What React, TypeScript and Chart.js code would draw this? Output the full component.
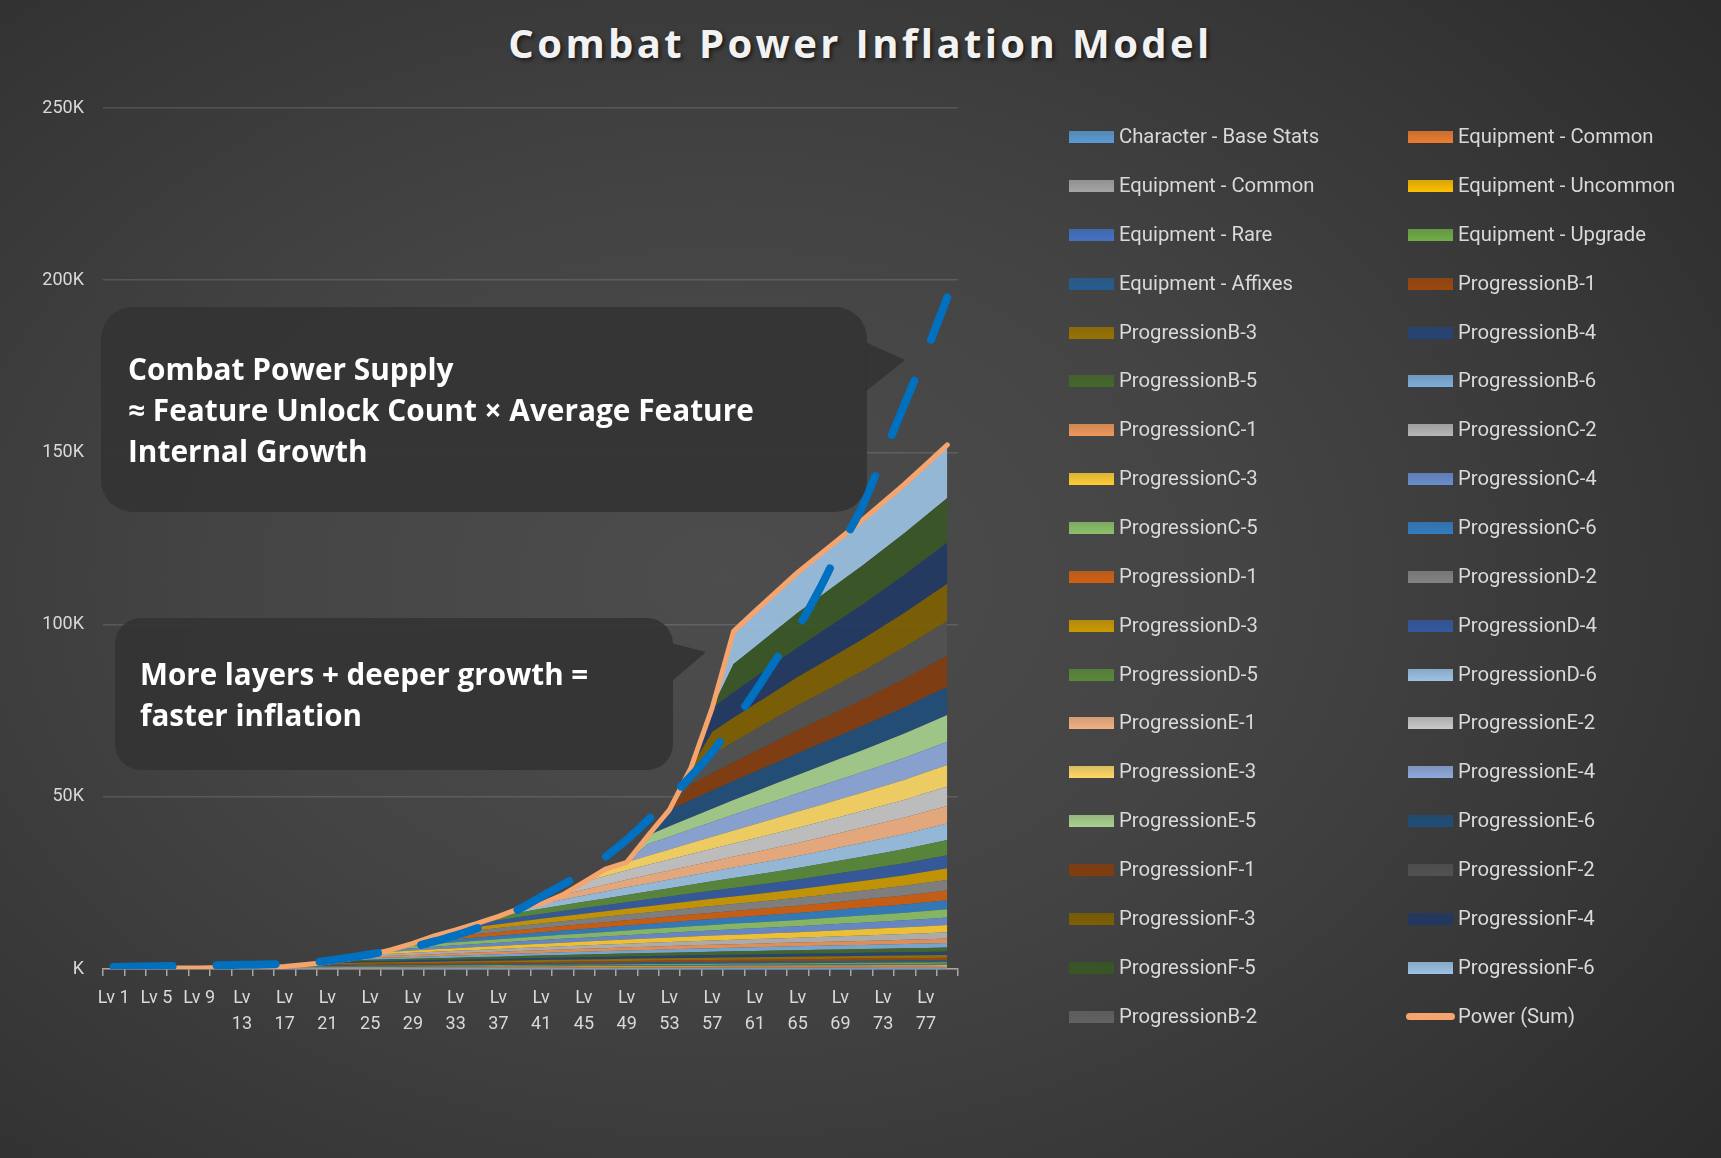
import React, { useEffect, useRef } from "react";
import { Chart, registerables } from "chart.js";

Chart.register(...registerables);

const W = 1721;
const H = 1158;

const levels = [
  "Lv 1", "Lv 3", "Lv 5", "Lv 7", "Lv 9", "Lv 11", "Lv 13", "Lv 15", "Lv 17", "Lv 19",
  "Lv 21", "Lv 23", "Lv 25", "Lv 27", "Lv 29", "Lv 31", "Lv 33", "Lv 35", "Lv 37", "Lv 39",
  "Lv 41", "Lv 43", "Lv 45", "Lv 47", "Lv 49", "Lv 51", "Lv 53", "Lv 55", "Lv 57", "Lv 59",
  "Lv 61", "Lv 63", "Lv 65", "Lv 67", "Lv 69", "Lv 71", "Lv 73", "Lv 75", "Lv 77", "Lv 79",
];

// values in thousands (K)
const charBase = [0.12,0.12,0.13,0.13,0.14,0.14,0.15,0.15,0.16,0.16,0.17,0.17,0.18,0.18,0.19,0.19,0.2,0.2,0.21,0.21,0.22,0.22,0.23,0.23,0.24,0.24,0.25,0.25,0.26,0.26,0.27,0.27,0.28,0.28,0.29,0.29,0.3,0.3,0.31,0.32];
const eqCommonA = [0,0.08,0.08,0.09,0.09,0.1,0.1,0.11,0.11,0.12,0.12,0.13,0.13,0.14,0.14,0.15,0.15,0.16,0.16,0.17,0.17,0.18,0.18,0.19,0.19,0.2,0.2,0.21,0.21,0.22,0.22,0.23,0.23,0.24,0.24,0.25,0.25,0.25,0.26,0.26];
const eqCommonB = [0,0,0,0.08,0.08,0.09,0.09,0.1,0.1,0.11,0.11,0.12,0.12,0.13,0.13,0.14,0.14,0.15,0.15,0.16,0.16,0.17,0.17,0.18,0.18,0.19,0.19,0.2,0.2,0.21,0.21,0.22,0.22,0.23,0.23,0.24,0.24,0.25,0.25,0.26];
const eqUncommon = [0,0,0,0,0,0.1,0.1,0.11,0.11,0.12,0.12,0.13,0.14,0.14,0.15,0.15,0.16,0.17,0.17,0.18,0.18,0.19,0.2,0.2,0.21,0.21,0.22,0.23,0.23,0.24,0.24,0.25,0.26,0.26,0.27,0.27,0.28,0.29,0.29,0.3];
const eqRare = [0,0,0,0,0,0,0,0.12,0.13,0.14,0.14,0.15,0.16,0.17,0.17,0.18,0.19,0.2,0.2,0.21,0.22,0.23,0.23,0.24,0.25,0.26,0.26,0.27,0.28,0.29,0.29,0.3,0.31,0.32,0.32,0.33,0.34,0.35,0.35,0.36];
const eqUpgrade = [0,0,0,0,0,0,0,0,0.15,0.16,0.17,0.18,0.19,0.2,0.21,0.22,0.23,0.24,0.25,0.26,0.27,0.28,0.29,0.3,0.31,0.32,0.33,0.34,0.35,0.36,0.37,0.38,0.39,0.4,0.41,0.42,0.43,0.44,0.45,0.46];
const eqAffixes = [0,0,0,0,0,0,0,0,0,0.2,0.22,0.23,0.25,0.26,0.28,0.29,0.31,0.32,0.34,0.35,0.37,0.38,0.4,0.41,0.43,0.44,0.46,0.47,0.49,0.5,0.51,0.52,0.53,0.54,0.55,0.56,0.57,0.58,0.59,0.6];
const progB1 = [0,0,0,0,0,0,0,0,0,0.3,0.32,0.34,0.35,0.37,0.38,0.4,0.41,0.43,0.44,0.46,0.47,0.49,0.5,0.52,0.53,0.55,0.56,0.58,0.59,0.6,0.61,0.62,0.63,0.64,0.65,0.66,0.67,0.68,0.69,0.7];
const progB3 = [0,0,0,0,0,0,0,0,0,0,0.3,0.32,0.35,0.37,0.39,0.41,0.44,0.46,0.48,0.5,0.52,0.54,0.56,0.58,0.6,0.61,0.63,0.64,0.66,0.67,0.68,0.69,0.7,0.72,0.73,0.74,0.75,0.77,0.78,0.8];
const progB4 = [0,0,0,0,0,0,0,0,0,0,0.3,0.33,0.36,0.39,0.42,0.45,0.48,0.5,0.53,0.56,0.59,0.61,0.64,0.67,0.7,0.72,0.75,0.77,0.8,0.82,0.84,0.86,0.88,0.9,0.91,0.93,0.95,0.96,0.98,1.0];
const progB5 = [0,0,0,0,0,0,0,0,0,0,0,0.4,0.44,0.48,0.51,0.55,0.58,0.62,0.65,0.68,0.72,0.75,0.78,0.81,0.84,0.87,0.9,0.93,0.96,0.98,1.0,1.03,1.05,1.07,1.09,1.11,1.13,1.15,1.18,1.2];
const progB6 = [0,0,0,0,0,0,0,0,0,0,0,0.4,0.44,0.49,0.53,0.57,0.61,0.65,0.69,0.73,0.77,0.8,0.84,0.87,0.91,0.94,0.97,1.0,1.03,1.05,1.08,1.1,1.13,1.15,1.18,1.2,1.22,1.25,1.27,1.3];
const progC1 = [0,0,0,0,0,0,0,0,0,0,0,0,0.5,0.54,0.58,0.61,0.65,0.68,0.71,0.74,0.77,0.8,0.83,0.86,0.89,0.92,0.95,0.98,1.0,1.02,1.04,1.06,1.08,1.1,1.13,1.15,1.18,1.2,1.25,1.3];
const progC2 = [0,0,0,0,0,0,0,0,0,0,0,0,0.5,0.56,0.62,0.67,0.72,0.77,0.82,0.87,0.92,0.96,1.0,1.04,1.08,1.12,1.16,1.2,1.24,1.28,1.32,1.36,1.4,1.46,1.52,1.57,1.62,1.68,1.74,1.8];
const progC3 = [0,0,0,0,0,0,0,0,0,0,0,0,0,0.6,0.67,0.73,0.79,0.85,0.9,0.95,1.0,1.05,1.1,1.15,1.2,1.25,1.3,1.35,1.4,1.46,1.51,1.56,1.61,1.68,1.75,1.82,1.89,1.96,2.03,2.1];
const progC4 = [0,0,0,0,0,0,0,0,0,0,0,0,0,0.6,0.68,0.75,0.82,0.88,0.94,1.0,1.05,1.1,1.15,1.2,1.26,1.32,1.38,1.44,1.5,1.56,1.61,1.66,1.71,1.78,1.85,1.92,1.99,2.06,2.13,2.2];
const progC5 = [0,0,0,0,0,0,0,0,0,0,0,0,0,0,0.7,0.78,0.86,0.93,1.0,1.06,1.12,1.18,1.24,1.3,1.36,1.42,1.48,1.54,1.6,1.66,1.72,1.78,1.84,1.91,1.98,2.05,2.12,2.19,2.3,2.4];
const progC6 = [0,0,0,0,0,0,0,0,0,0,0,0,0,0,0.7,0.79,0.88,0.96,1.03,1.1,1.17,1.24,1.31,1.38,1.45,1.52,1.59,1.66,1.73,1.8,1.87,1.94,2.0,2.08,2.16,2.24,2.32,2.4,2.5,2.6];
const progD1 = [0,0,0,0,0,0,0,0,0,0,0,0,0,0,0,0.8,0.9,1.0,1.08,1.16,1.24,1.31,1.38,1.45,1.52,1.59,1.66,1.73,1.8,1.88,1.96,2.04,2.12,2.2,2.3,2.4,2.5,2.6,2.7,2.8];
const progD2 = [0,0,0,0,0,0,0,0,0,0,0,0,0,0,0,0.8,0.92,1.03,1.13,1.22,1.31,1.4,1.48,1.56,1.64,1.72,1.8,1.88,1.96,2.04,2.12,2.2,2.3,2.4,2.5,2.6,2.72,2.84,2.97,3.1];
const progD3 = [0,0,0,0,0,0,0,0,0,0,0,0,0,0,0,0,0.9,1.02,1.14,1.25,1.35,1.45,1.54,1.63,1.72,1.81,1.9,1.99,2.08,2.17,2.26,2.36,2.46,2.56,2.67,2.78,2.9,3.02,3.2,3.4];
const progD4 = [0,0,0,0,0,0,0,0,0,0,0,0,0,0,0,0,0,1.0,1.14,1.27,1.4,1.52,1.64,1.76,1.88,2.0,2.12,2.24,2.36,2.48,2.6,2.72,2.85,2.98,3.11,3.24,3.37,3.5,3.65,3.8];
const progD5 = [0,0,0,0,0,0,0,0,0,0,0,0,0,0,0,0,0,0,1.1,1.3,1.48,1.65,1.81,1.97,2.12,2.27,2.42,2.57,2.72,2.87,3.02,3.17,3.32,3.48,3.64,3.8,3.95,4.1,4.25,4.4];
const progD6 = [0,0,0,0,0,0,0,0,0,0,0,0,0,0,0,0,0,0,0,1.2,1.42,1.63,1.83,2.02,2.2,2.37,2.54,2.7,2.86,3.02,3.18,3.34,3.5,3.68,3.86,4.04,4.22,4.4,4.6,4.8];
const progE1 = [0,0,0,0,0,0,0,0,0,0,0,0,0,0,0,0,0,0,0,0,0,1.4,1.7,1.95,2.2,2.4,2.6,2.8,3.0,3.2,3.4,3.6,3.8,4.0,4.2,4.4,4.6,4.75,4.95,5.1];
const progE2 = [0,0,0,0,0,0,0,0,0,0,0,0,0,0,0,0,0,0,0,0,0,0,2.2,2.5,2.75,3.0,3.2,3.4,3.6,3.8,4.0,4.2,4.4,4.55,4.7,4.85,5.0,5.2,5.4,5.6];
const progE3 = [0,0,0,0,0,0,0,0,0,0,0,0,0,0,0,0,0,0,0,0,0,0,0,2.0,2.3,2.6,2.9,3.2,3.5,3.8,4.1,4.4,4.7,4.9,5.1,5.3,5.55,5.8,6.05,6.3];
const progE4 = [0,0,0,0,0,0,0,0,0,0,0,0,0,0,0,0,0,0,0,0,0,0,0,0,0,3.4,3.7,4.0,4.3,4.6,4.85,5.1,5.35,5.55,5.75,5.95,6.15,6.35,6.55,6.7];
const progE5 = [0,0,0,0,0,0,0,0,0,0,0,0,0,0,0,0,0,0,0,0,0,0,0,0,0,2.5,3.0,3.4,3.8,4.2,4.6,4.95,5.3,5.65,6.0,6.35,6.7,7.05,7.4,7.8];
const progE6 = [0,0,0,0,0,0,0,0,0,0,0,0,0,0,0,0,0,0,0,0,0,0,0,0,0,0,4.8,5.05,5.3,5.55,5.8,6.05,6.3,6.55,6.8,7.05,7.35,7.65,7.95,8.2];
const progF1 = [0,0,0,0,0,0,0,0,0,0,0,0,0,0,0,0,0,0,0,0,0,0,0,0,0,0,0,4.5,5.0,5.45,5.85,6.25,6.65,6.95,7.25,7.55,7.9,8.25,8.6,9.0];
const progF2 = [0,0,0,0,0,0,0,0,0,0,0,0,0,0,0,0,0,0,0,0,0,0,0,0,0,0,0,4.8,5.4,5.9,6.35,6.8,7.25,7.6,7.95,8.3,8.75,9.2,9.65,10.1];
const progF3 = [0,0,0,0,0,0,0,0,0,0,0,0,0,0,0,0,0,0,0,0,0,0,0,0,0,0,0,0,6.6,7.0,7.4,7.8,8.2,8.55,8.9,9.25,9.6,10.0,10.4,10.8];
const progF4 = [0,0,0,0,0,0,0,0,0,0,0,0,0,0,0,0,0,0,0,0,0,0,0,0,0,0,0,0,7.0,7.4,7.8,8.2,8.6,9.1,9.6,10.1,10.6,11.0,11.5,12.0];
const progF5 = [0,0,0,0,0,0,0,0,0,0,0,0,0,0,0,0,0,0,0,0,0,0,0,0,0,0,0,0,0,8.2,8.85,9.5,10.1,10.5,10.9,11.3,11.7,12.1,12.5,12.9];
const progF6 = [0,0,0,0,0,0,0,0,0,0,0,0,0,0,0,0,0,0,0,0,0,0,0,0,0,0,0,0,0,9.5,10.3,11.0,11.7,12.2,12.7,13.2,13.7,14.2,14.8,15.4];
const progB2 = [0,0,0,0,0,0,0,0,0,0,0,0,0,0,0,0,0,0,0,0,0,0,0,0,0,0,0,0,0,0,0,0,0,0,0,0,0,0,0,0];

// trendline (K)
const trendValues = [0.6,0.7,0.8,0.9,1.0,1.1,1.2,1.3,1.5,1.8,2.4,3.3,4.3,5.4,6.5,8.0,9.8,11.8,14.5,17.5,21.0,24.5,28.0,32.5,37.5,43.3,49.5,56.0,63.0,71.5,80.5,90.0,99.0,110.0,122.5,134.0,149.0,164.0,179.0,195.0];

const seriesNames = [
  "Character - Base Stats", "Equipment - Common", "Equipment - Common", "Equipment - Uncommon",
  "Equipment - Rare", "Equipment - Upgrade", "Equipment - Affixes", "ProgressionB-1",
  "ProgressionB-3", "ProgressionB-4", "ProgressionB-5", "ProgressionB-6",
  "ProgressionC-1", "ProgressionC-2", "ProgressionC-3", "ProgressionC-4", "ProgressionC-5", "ProgressionC-6",
  "ProgressionD-1", "ProgressionD-2", "ProgressionD-3", "ProgressionD-4", "ProgressionD-5", "ProgressionD-6",
  "ProgressionE-1", "ProgressionE-2", "ProgressionE-3", "ProgressionE-4", "ProgressionE-5", "ProgressionE-6",
  "ProgressionF-1", "ProgressionF-2", "ProgressionF-3", "ProgressionF-4", "ProgressionF-5", "ProgressionF-6",
  "ProgressionB-2",
];
const seriesValues = [
  charBase, eqCommonA, eqCommonB, eqUncommon, eqRare, eqUpgrade, eqAffixes, progB1,
  progB3, progB4, progB5, progB6,
  progC1, progC2, progC3, progC4, progC5, progC6,
  progD1, progD2, progD3, progD4, progD5, progD6,
  progE1, progE2, progE3, progE4, progE5, progE6,
  progF1, progF2, progF3, progF4, progF5, progF6,
  progB2,
];
const seriesColors = [
  "#5b9bd5", "#ed7d31", "#a5a5a5", "#ffc000", "#4472c4", "#70ad47", "#255e91", "#9e480e",
  "#997300", "#264478", "#43682b", "#7cafdd",
  "#f1975a", "#b7b7b7", "#ffcd33", "#698ed0", "#8cc168", "#327dc2",
  "#d26012", "#848484", "#cc9a00", "#335aa1", "#5a8a39", "#9dc3e6",
  "#f4b183", "#c9c9c9", "#ffd966", "#8faadc", "#a9d18e", "#1f4e79",
  "#843c0c", "#525252", "#7f6000", "#203864", "#385723", "#9dc3e6",
  "#636363",
];
const powerName = "Power (Sum)";
const powerColor = "#f4a46c";
const trendColor = "#0070c0";
const yTicks = [0, 50, 100, 150, 200, 250];

function rgba(hex: string, a: number) {
  const n = parseInt(hex.slice(1), 16);
  return `rgba(${(n >> 16) & 255},${(n >> 8) & 255},${n & 255},${a})`;
}

const AXIS_FONT = "Roboto, 'Liberation Sans', sans-serif";
const BOLD_FONT = "'Open Sans', Lato, sans-serif";

function ChartCanvas() {
  const ref = useRef<HTMLCanvasElement | null>(null);
  useEffect(() => {
    if (!ref.current) return;
    const powerSum = levels.map((_, i) => seriesValues.reduce((s, arr) => s + arr[i], 0));
    const areaSets = seriesValues.map((vals, k) => ({
      label: seriesNames[k],
      data: vals,
      backgroundColor: rgba(seriesColors[k], 0.9),
      borderWidth: 0,
      borderColor: "rgba(0,0,0,0)",
      fill: k === 0 ? "origin" : "-1",
      pointRadius: 0,
      stack: "areas",
      order: 2,
      tension: 0,
    }));
    const chart = new Chart(ref.current, {
      type: "line",
      data: {
        labels: levels,
        datasets: [
          ...areaSets,
          {
            label: powerName,
            data: powerSum,
            borderColor: powerColor,
            borderWidth: 5,
            borderJoinStyle: "round",
            borderCapStyle: "round",
            fill: false,
            pointRadius: 0,
            stack: "power",
            order: 1,
            tension: 0,
          },
          {
            label: "Trend",
            data: trendValues,
            borderColor: trendColor,
            borderWidth: 8,
            borderDash: [59, 44],
            borderCapStyle: "round",
            fill: false,
            pointRadius: 0,
            stack: "trend",
            order: 0,
            tension: 0.4,
          },
        ] as any,
      },
      options: {
        animation: false,
        responsive: false,
        maintainAspectRatio: false,
        layout: { padding: { top: 108, right: W - 958, left: 0, bottom: 0 } },
        plugins: {
          legend: { display: false },
          title: { display: false },
          tooltip: { enabled: false },
        },
        scales: {
          x: {
            type: "category",
            offset: true,
            grid: {
              display: true,
              offset: true,
              drawOnChartArea: false,
              drawTicks: true,
              tickLength: 7,
              color: "#a6a6a6",
              lineWidth: 1.5,
            },
            border: { display: true, color: "#a6a6a6", width: 1.5 },
            ticks: {
              autoSkip: false,
              maxRotation: 0,
              minRotation: 0,
              color: "#d9d9d9",
              padding: 9,
              font: { family: AXIS_FONT, size: 18, lineHeight: 1.45 },
              callback: (_v: any, index: number) => {
                if (index % 2 !== 0) return "";
                const lbl = levels[index];
                const num = lbl.slice(3);
                return Number(num) >= 10 ? ["Lv", num] : lbl;
              },
            },
            afterFit: (s: any) => {
              s.height = H - 969;
            },
          },
          y: {
            stacked: true,
            min: yTicks[0],
            max: yTicks[yTicks.length - 1],
            ticks: {
              stepSize: yTicks[1] - yTicks[0],
              color: "#d9d9d9",
              padding: 19,
              font: { family: AXIS_FONT, size: 18 },
              callback: (v: any) => (Number(v) === 0 ? "K" : `${v}K`),
            },
            grid: { color: "rgba(255,255,255,0.13)", lineWidth: 1.5, drawTicks: false },
            border: { display: false },
            afterFit: (s: any) => {
              s.width = 103;
            },
          },
        },
      } as any,
    });
    return () => chart.destroy();
  }, []);
  return (
    <canvas
      ref={ref}
      width={W}
      height={H}
      style={{ position: "absolute", left: 0, top: 0, width: W, height: H }}
    />
  );
}

function Callouts() {
  const fill = "rgba(52,52,52,0.93)";
  const box1 = { x: 101, y: 307, w: 766, h: 205, r: 32 };
  const box2 = { x: 115, y: 618, w: 558, h: 152, r: 26 };
  return (
    <>
      <svg width={W} height={H} style={{ position: "absolute", left: 0, top: 0, pointerEvents: "none" }}>
        <rect x={box1.x} y={box1.y} width={box1.w} height={box1.h} rx={box1.r} ry={box1.r} fill={fill} />
        <polygon points="865,342 905,360 865,392" fill={fill} />
        <rect x={box2.x} y={box2.y} width={box2.w} height={box2.h} rx={box2.r} ry={box2.r} fill={fill} />
        <polygon points="671,643 706,652 671,682" fill={fill} />
      </svg>
      <div
        style={{
          position: "absolute",
          left: 128,
          top: 348,
          font: `700 29.8px ${BOLD_FONT}`,
          lineHeight: "41px",
          color: "#ffffff",
          whiteSpace: "nowrap",
        }}
      >
        <div>Combat Power Supply</div>
        <div>≈ Feature Unlock Count × Average Feature</div>
        <div>Internal Growth</div>
      </div>
      <div
        style={{
          position: "absolute",
          left: 140,
          top: 654,
          font: `700 29.6px ${BOLD_FONT}`,
          lineHeight: "40.5px",
          color: "#ffffff",
          whiteSpace: "nowrap",
        }}
      >
        <div>More layers + deeper growth =</div>
        <div>faster inflation</div>
      </div>
    </>
  );
}

function Legend() {
  const entries = [
    ...seriesNames.map((n, i) => ({ name: n, color: seriesColors[i], line: false })),
    { name: powerName, color: powerColor, line: true },
  ];
  return (
    <>
      {entries.map((e, k) => {
        const row = Math.floor(k / 2);
        const col = k % 2;
        const cy = 137.2 + row * 48.85;
        const sx = col === 0 ? 1069 : 1408;
        const tx = col === 0 ? 1119 : 1458;
        return (
          <React.Fragment key={k}>
            {e.line ? (
              <div
                style={{
                  position: "absolute",
                  left: sx - 2,
                  top: cy - 3.5,
                  width: 49,
                  height: 7,
                  borderRadius: 4,
                  background: e.color,
                }}
              />
            ) : (
              <div
                style={{
                  position: "absolute",
                  left: sx,
                  top: cy - 6,
                  width: 45,
                  height: 12,
                  background: `linear-gradient(to bottom, ${rgba(e.color, 0.8)}, ${e.color})`,
                }}
              />
            )}
            <div
              style={{
                position: "absolute",
                left: tx,
                top: cy - 13,
                height: 26,
                lineHeight: "26px",
                font: `400 20.3px ${AXIS_FONT}`,
                color: "#d9d9d9",
                whiteSpace: "nowrap",
              }}
            >
              {e.name}
            </div>
          </React.Fragment>
        );
      })}
    </>
  );
}

export default function App() {
  return (
    <div
      style={{
        position: "absolute",
        left: 0,
        top: 0,
        width: W,
        height: H,
        overflow: "hidden",
        background:
          "radial-gradient(ellipse 75% 80% at 42% 50%, #4d4d4d 0%, #444444 40%, #383838 70%, #2b2b2b 100%)",
      }}
    >
      <div
        style={{
          position: "absolute",
          left: 0,
          top: 18,
          width: W,
          textAlign: "center",
          font: `700 40px ${BOLD_FONT}`,
          lineHeight: "50px",
          letterSpacing: "3.4px",
          color: "#f2f2f2",
          textShadow: "2px 2px 4px rgba(0,0,0,0.6)",
        }}
      >
        Combat Power Inflation Model
      </div>
      <ChartCanvas />
      <Callouts />
      <Legend />
    </div>
  );
}
